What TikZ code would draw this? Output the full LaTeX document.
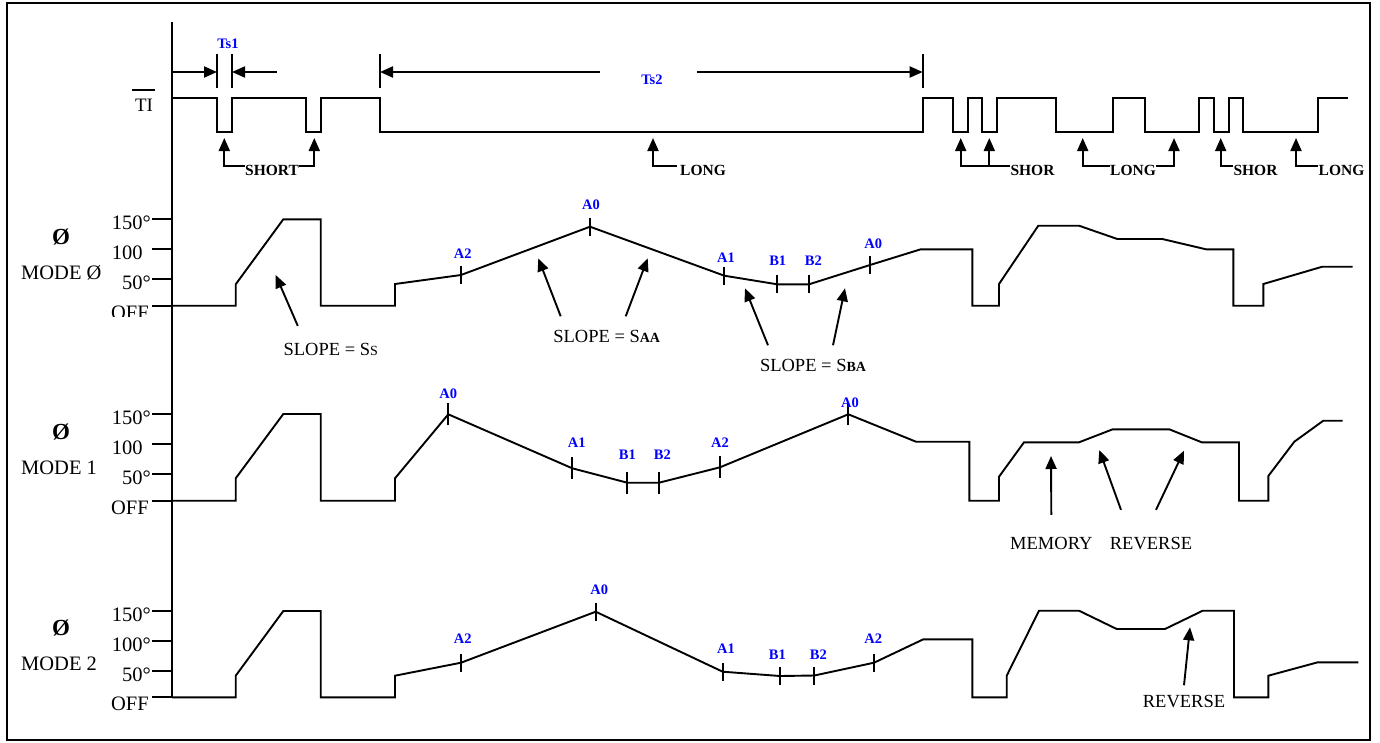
\documentclass[tikz,border=0pt]{standalone}
\usepackage{fontspec}
\setmainfont{Liberation Serif}
\usetikzlibrary{arrows.meta}

\tikzset{
  wave/.style={line width=1.9pt},
  tip/.style={line width=1.9pt, -{Triangle[length=13pt,width=11pt]}},
  ptlabel/.style={text=blue, inner sep=0pt, font=\bfseries\fontsize{14.5}{14.5}\selectfont},
  pulse/.style={inner sep=0pt, font=\bfseries\fontsize{15.5}{15.5}\selectfont},
  note/.style={inner sep=0pt, font=\fontsize{18.5}{18.5}\selectfont},
  yval/.style={inner sep=0pt, anchor=east, font=\fontsize{20.5}{20.5}\selectfont},
}

\begin{document}
\begin{tikzpicture}[x=1pt,y=-1pt]
  \useasboundingbox (0,0) rectangle (1380,742);
  % Frame
  \draw[line width=2pt] (7,3) rectangle (1370,739.5);

  % Axis
  \draw[wave] (172,22) -- (172,697.3);

  % TI signal
  \node[inner sep=0pt, font=\fontsize{19}{19}\selectfont] (ti) at (144,105.5) {TI};
  \draw[line width=1.4pt] ([xshift=-3pt,yshift=9pt]ti.north west) -- ([xshift=2pt,yshift=9pt]ti.north east);
  \draw[wave] (172,98) -- (217,98) -- (217,132) -- (232,132) -- (232,98) -- (306,98)
    -- (306,132) -- (321,132) -- (321,98) -- (380,98) -- (380,132) -- (922.7,132)
    -- (922.7,98) -- (952.7,98) -- (952.7,132) -- (967.7,132) -- (967.7,98) -- (981.7,98)
    -- (981.7,132) -- (996.7,132) -- (996.7,98) -- (1056,98) -- (1056,132) -- (1112.7,132)
    -- (1112.7,98) -- (1145,98) -- (1145,132) -- (1199,132) -- (1199,98) -- (1214,98)
    -- (1214,132) -- (1229,132) -- (1229,98) -- (1243,98) -- (1243,132) -- (1317.7,132)
    -- (1317.7,98) -- (1347.7,98);

  % Ts1 and Ts2
  \foreach \x in {217,232,380,922.7}
    \draw[wave] (\x,54) -- (\x,88);
  \coordinate (ax) at (172,72);
  \coordinate (t1l) at (217,72);
  \coordinate (t1r) at (232,72);
  \coordinate (t1o) at (277,72);
  \coordinate (t2l) at (380,72);
  \coordinate (t2r) at (922.7,72);
  \coordinate (t2a) at (600,72);
  \coordinate (t2b) at (697,72);
  \node[ptlabel] (ts1) at (228,44) {Ts1};
  \node[ptlabel] (ts2) at (652,80) {Ts2};
  \draw[tip] (ax) -- (t1l);
  \draw[tip] (t1o) -- (t1r);
  \draw[tip] (t2a) -- (t2l);
  \draw[tip] (t2b) -- (t2r);

  % Pulse names
  \foreach \n/\x in {p1/224.3,p2/314.3,p3/653,p4/960.7,p5/989.3,p6/1082.7,p7/1174,p8/1220.7,p9/1296}
    \coordinate (\n) at (\x,138);
  \node[pulse] (short) at (272,170) {SHORT};
  \node[pulse] (long1) at (703,170) {LONG};
  \node[pulse] (shor1) at (1032.5,170) {SHOR};
  \node[pulse] (long2) at (1133,170) {LONG};
  \node[pulse] (shor2) at (1255.5,170) {SHOR};
  \node[pulse] (long3) at (1341.5,170) {LONG};
  \draw[tip] ([yshift=4pt]short.west) -| (p1);
  \draw[tip] ([yshift=4pt]short.east) -| (p2);
  \draw[tip] ([xshift=-3pt,yshift=4pt]long1.west) -| (p3);
  \draw[tip] ([yshift=4pt]shor1.west) -| (p4);
  \draw[tip] ([yshift=4pt]shor1.west) -| (p5);
  \draw[tip] ([yshift=4pt]long2.west) -| (p6);
  \draw[tip] ([yshift=4pt]long2.east) -| (p7);
  \draw[tip] ([yshift=4pt]shor2.west) -| (p8);
  \draw[tip] ([yshift=4pt]long3.west) -| (p9);

  % Scales of the three modes
  \foreach \b/\m/\h [count=\i] in {305.7/Ø/100\phantom{°}, 500.7/1/100\phantom{°}, 697.3/2/100°} {
    \foreach \d in {0,26.7,56.7,86.7}
      \draw[wave] (152,\b-\d) -- (172,\b-\d);
    \node[yval] (v150-\i) at (151,\b-82.7) {150°};
    \node[yval] (v100-\i) at (151,\b-52.7) {\h};
    \node[yval] (v50-\i) at (151,\b-22.7) {50°};
    \node[inner sep=0pt, font=\bfseries\fontsize{23}{23}\selectfont] (phi-\i) at (61,\b-69) {Ø};
    \node[inner sep=0pt, anchor=west, font=\fontsize{20.5}{20.5}\selectfont] (mode-\i) at (21,\b-33) {MODE \m};
  }
  \begin{scope}
    \clip (100,280) rectangle (160,316.7);
    \node[yval] (off-1) at (149,312.7) {OFF};
  \end{scope}
  \node[yval] (off-2) at (149,507.7) {OFF};
  \node[yval] (off-3) at (149,704.3) {OFF};

  % Mode 0
  \draw[wave] (172,305.7) -- (235.7,305.7) -- (235.7,284.3) -- (283.3,219.3) -- (320.7,219.3)
    -- (320.7,305.7) -- (395,305.7) -- (395,284) -- (461,275) -- (590,226.7) -- (724.3,275.7)
    -- (777.3,284.3) -- (809,284.3) -- (870,265) -- (920.7,249.3) -- (972.3,249.3)
    -- (972.3,305.7) -- (999,305.7) -- (999,284) -- (1038.3,225.7) -- (1079,225.7)
    -- (1117.3,239) -- (1162.3,239) -- (1206,249.3) -- (1233.3,249.3) -- (1233.3,305.7)
    -- (1263.3,305.7) -- (1263.3,284) -- (1322.3,266.7) -- (1352.7,266.7);
  \foreach \x/\y/\lx/\ly/\t [count=\i] in {461/275/462.7/253.3/A2, 590/226.7/591/205/A0,
      724.3/275.7/726/257.7/A1, 777.3/284.3/777.7/261/B1, 809/284.3/813.3/261/B2,
      870/265/873.3/243.3/A0} {
    \draw[wave] (\x,\y-9) -- (\x,\y+9);
    \node[ptlabel] (a0-\i) at (\lx,\ly) {\t};
  }

  % Mode 1
  \draw[wave] (172,500.7) -- (235.7,500.7) -- (235.7,478.3) -- (283.3,414) -- (320.7,414)
    -- (320.7,500.7) -- (395,500.7) -- (395,478.3) -- (448.3,414.3) -- (572.3,468.3)
    -- (627.3,482.7) -- (659,482.7) -- (720,467.3) -- (848.3,414.3) -- (916,441.7)
    -- (969.3,441.7) -- (969.3,500.7) -- (999,500.7) -- (999,476.7) -- (1024,442.3)
    -- (1079,442.3) -- (1112.7,429.3) -- (1169.3,429.3) -- (1201.7,442.3) -- (1239,442.3)
    -- (1239,500.7) -- (1268.3,500.7) -- (1268.3,476) -- (1294.3,441.7) -- (1323.3,420.7)
    -- (1342.7,420.7);
  \foreach \x/\y/\lx/\ly/\t [count=\i] in {448.3/414.3/448.3/393.3/A0, 572.3/468.3/576.7/442.7/A1,
      627.3/482.7/627.3/455/B1, 659/482.7/662.3/455/B2, 720/467.3/720/442.7/A2,
      848.3/414.3/850/402.7/A0} {
    \draw[wave] (\x,\y-11) -- (\x,\y+11);
    \node[ptlabel] (a1-\i) at (\lx,\ly) {\t};
  }

  % Mode 2
  \draw[wave] (172,697.3) -- (235.7,697.3) -- (235.7,675.7) -- (283.3,611) -- (320.7,611)
    -- (320.7,697.3) -- (395,697.3) -- (395,675.7) -- (461,662.7) -- (595.7,611.7)
    -- (722.7,671.7) -- (780,676) -- (814.3,675.5) -- (874,662.7) -- (923.3,639.3)
    -- (972.3,639.3) -- (972.3,697.3) -- (1006.7,697.3) -- (1006.7,675.7) -- (1039,610.7)
    -- (1079,610.7) -- (1116.7,629) -- (1165,629) -- (1202.7,610.7) -- (1234,610.7)
    -- (1234,697.3) -- (1268.3,697.3) -- (1268.3,675.7) -- (1317.7,662.3) -- (1358.3,662.3);
  \foreach \x/\y/\lx/\ly/\t [count=\i] in {461/662.7/462.7/639/A2, 595.7/611.7/599.3/589.3/A0,
      722.7/671.7/726/648.3/A1, 780/676/777.3/654.3/B1, 814.3/675.5/818.3/654.3/B2,
      874/662.7/873.3/639/A2} {
    \draw[wave] (\x,\y-9) -- (\x,\y+9);
    \node[ptlabel] (a2-\i) at (\lx,\ly) {\t};
  }

  % Slope notes
  \coordinate (sstip) at (275.7,275);
  \coordinate (saa1) at (538.3,258.3);
  \coordinate (saa2) at (647.7,258.3);
  \coordinate (sba1) at (745,288.3);
  \coordinate (sba2) at (845,288.3);
  \node[note] (ss) at (330.8,349.3) {SLOPE = S{\fontsize{14}{14}\selectfont S}};
  \node[note] (saa) at (606.7,336.7) {SLOPE = S{\bfseries\fontsize{14}{14}\selectfont AA}};
  \node[note] (sba) at (813,365.7) {SLOPE = S{\bfseries\fontsize{14}{14}\selectfont BA}};
  \draw[tip] ([xshift=-33pt,yshift=17pt]ss.north) -- (sstip);
  \draw[tip] ([xshift=-46pt,yshift=14pt]saa.north) -- (saa1);
  \draw[tip] ([xshift=19pt,yshift=14pt]saa.north) -- (saa2);
  \draw[tip] ([xshift=-45pt,yshift=14pt]sba.north) -- (sba1);
  \draw[tip] ([xshift=20pt,yshift=14pt]sba.north) -- (sba2);

  % Memory and reverse
  \coordinate (memtip) at (1051,456);
  \coordinate (rev1) at (1099.3,450);
  \coordinate (rev2) at (1184,450.7);
  \coordinate (rev3) at (1190,627.3);
  \node[note] (mem) at (1051.3,543.3) {MEMORY};
  \node[note] (revA) at (1151,543.3) {REVERSE};
  \node[note] (revB) at (1184,701.7) {REVERSE};
  \draw[tip] ([yshift=22pt]mem.north) -- (memtip);
  \draw[tip] ([xshift=-30pt,yshift=27pt]revA.north) -- (rev1);
  \draw[tip] ([xshift=5pt,yshift=27pt]revA.north) -- (rev2);
  \draw[tip] ([yshift=10pt]revB.north) -- (rev3);
\end{tikzpicture}
\end{document}
